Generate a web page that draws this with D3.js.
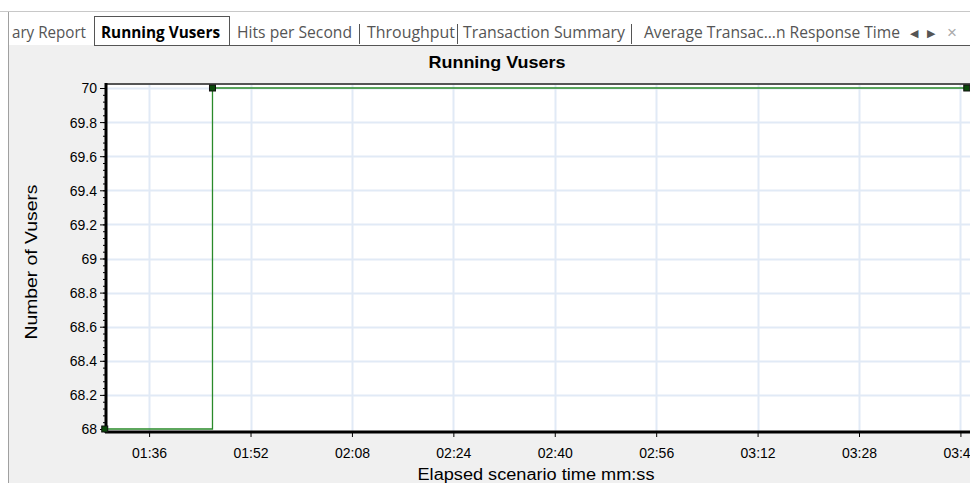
<!DOCTYPE html>
<html>
<head>
<meta charset="utf-8">
<script src="https://cdn.jsdelivr.net/npm/d3@7"></script>
<style>
  body { margin: 0; background: #fff; overflow: hidden; }
  svg { display: block; }
</style>
</head>
<body>
<svg id="chart" width="970" height="483"></svg>
<script>
// elapsed seconds and running vusers
const times = [89, 106, 225];
const vusers = [68, 70, 70];
const xTicks = [96, 112, 128, 144, 160, 176, 192, 208, 224];
const yTicks = [68, 68.2, 68.4, 68.6, 68.8, 69, 69.2, 69.4, 69.6, 69.8, 70];
const tabs = ["ary Report", "Running Vusers", "Hits per Second", "Throughput", "Transaction Summary", "Average Transac...n Response Time"];

const svg = d3.select("#chart");
const font = "'Liberation Sans', Arial, sans-serif";
const tabFont = "'Open Sans', 'Noto Sans', sans-serif";

// panel background
svg.append("rect").attr("x", 8).attr("y", 45).attr("width", 962).attr("height", 438).attr("fill", "#f0f0f0");
svg.append("line").attr("x1", 8.5).attr("x2", 8.5).attr("y1", 11).attr("y2", 483).attr("stroke", "#a0a0a0");
svg.append("line").attr("x1", 0).attr("x2", 970).attr("y1", 11.5).attr("y2", 11.5).attr("stroke", "#c8c8c8");

// tab strip (left edge and width of each label)
const tabX = [12, 101, 237, 367, 463, 644];
const tabW = [74, 119, 115, 88, 162, 256];
const seps = [359, 457, 631];
svg.append("rect").attr("x", 94.5).attr("y", 16.5).attr("width", 135).attr("height", 29)
  .attr("fill", "#fff").attr("stroke", "#555");
svg.append("line").attr("x1", 229).attr("x2", 970).attr("y1", 45.5).attr("y2", 45.5).attr("stroke", "#555");
svg.selectAll(".sep").data(seps).join("line")
  .attr("x1", d => d + 0.5).attr("x2", d => d + 0.5).attr("y1", 24).attr("y2", 44).attr("stroke", "#555");
svg.selectAll(".tab").data(tabs).join("text")
  .attr("x", (d, i) => tabX[i]).attr("y", 38)
  .attr("font-family", tabFont).attr("font-size", 15.4)
  .attr("font-weight", (d, i) => i === 1 ? "bold" : "normal")
  .attr("fill", (d, i) => i === 1 ? "#000" : "#555")
  .attr("textLength", (d, i) => tabW[i]).attr("lengthAdjust", "spacingAndGlyphs")
  .text(d => d);
svg.append("text").attr("x", 910).attr("y", 37).attr("font-size", 11).attr("fill", "#555").attr("font-family", font).text("◀");
svg.append("text").attr("x", 927).attr("y", 37).attr("font-size", 11).attr("fill", "#555").attr("font-family", font).text("▶");
svg.append("text").attr("x", 947).attr("y", 38).attr("font-size", 17).attr("fill", "#aaa").attr("font-family", font).text("×");

// chart title
svg.append("text").attr("x", 497).attr("y", 68).attr("text-anchor", "middle")
  .attr("font-family", font).attr("font-size", 16.5).attr("font-weight", "bold")
  .attr("textLength", 137).attr("lengthAdjust", "spacingAndGlyphs").text("Running Vusers");

const x = d3.scaleLinear().domain([89.2, 226.3]).range([106, 975]);
const y = d3.scaleLinear().domain([68, 70]).range([429, 88]);

// plot area
svg.append("rect").attr("x", 106).attr("y", 84).attr("width", 870).attr("height", 348).attr("fill", "#fff");

const fmt = s => d3.format("02")(Math.floor(s / 60)) + ":" + d3.format("02")(s % 60);

// grid
svg.selectAll(".gy").data(yTicks.slice(1)).join("line")
  .attr("x1", 107).attr("x2", 970).attr("y1", d => Math.round(y(d)) + 0.5).attr("y2", d => Math.round(y(d)) + 0.5)
  .attr("stroke", "#e1eaf6").attr("stroke-width", 2);
svg.selectAll(".gx").data(xTicks).join("line")
  .attr("x1", d => Math.round(x(d)) + 0.5).attr("x2", d => Math.round(x(d)) + 0.5).attr("y1", 85).attr("y2", 431)
  .attr("stroke", "#e1eaf6").attr("stroke-width", 2);

// top border
svg.append("line").attr("x1", 106).attr("x2", 970).attr("y1", 84).attr("y2", 84).attr("stroke", "#555").attr("stroke-width", 2);

// y axis
const yAxis = svg.append("g").attr("transform", "translate(106,0)")
  .call(d3.axisLeft(y).tickValues(yTicks).tickSize(6).tickPadding(3).tickFormat(d3.format("")));
const yMinor = d3.range(0, 51).map(i => 68 + i * 0.04);
svg.append("g").attr("transform", "translate(106,0)")
  .call(d3.axisLeft(y).tickValues(yMinor).tickSize(3).tickFormat(""))
  .call(g => g.select(".domain").remove());

// x axis
const xAxis = svg.append("g").attr("transform", "translate(0,432)")
  .call(d3.axisBottom(x).tickValues(xTicks).tickSize(5).tickPadding(11).tickFormat(fmt));

[yAxis, xAxis].forEach(g => {
  g.selectAll("text").attr("font-family", font).attr("font-size", 14).attr("fill", "#000");
  g.selectAll("line").attr("stroke", "#000");
});
yAxis.select(".domain").attr("d", "M0,83V433").attr("stroke", "#000").attr("stroke-width", 3);
xAxis.select(".domain").attr("d", "M105,0H970").attr("stroke", "#000").attr("stroke-width", 3);
yAxis.selectAll(".tick text").attr("dy", "0.35em");

// line
const pts = times.map((t, i) => [t, vusers[i]]);
svg.append("path").datum(pts)
  .attr("fill", "none").attr("stroke", "#2a8a2a").attr("stroke-width", 1.3)
  .attr("d", d3.line().x(d => x(d[0])).y(d => y(d[1])).curve(d3.curveStepAfter));
svg.selectAll(".pt").data(pts).join("rect")
  .attr("x", d => x(d[0]) - 3).attr("y", d => y(d[1]) - 3).attr("width", 6).attr("height", 6)
  .attr("fill", "#0a4a0a").attr("stroke", "#111").attr("stroke-width", 1);

// axis titles
svg.append("text").attr("x", 536).attr("y", 480).attr("text-anchor", "middle")
  .attr("font-family", font).attr("font-size", 16)
  .attr("textLength", 237).attr("lengthAdjust", "spacingAndGlyphs").text("Elapsed scenario time mm:ss");
svg.append("text").attr("transform", "translate(37,262) rotate(-90)").attr("text-anchor", "middle")
  .attr("font-family", font).attr("font-size", 16)
  .attr("textLength", 155).attr("lengthAdjust", "spacingAndGlyphs").text("Number of Vusers");
</script>
</body>
</html>
